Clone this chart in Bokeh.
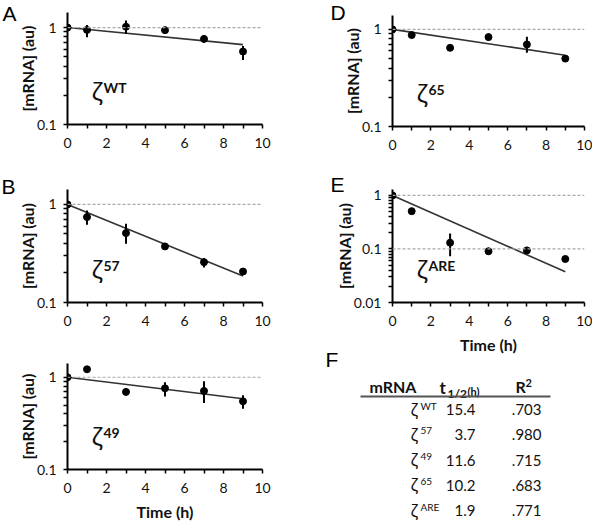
from bokeh.plotting import figure
from bokeh.layouts import row, column
from bokeh.models import (Range1d, FixedTicker, CustomJSTickFormatter, Label, LabelSet,
                          Span, Arrow, ColumnDataSource)
from bokeh.core.properties import value
from bokeh.embed import file_html
from bokeh.resources import INLINE

# ---------------- data ----------------
time_h = [0, 1, 3, 5, 7, 9]
fit_x = [0, 9]

wt_mean = [1.0, 0.946, 1.02, 0.94, 0.764, 0.566]
wt_lo = [1.0, 0.795, 0.86, 0.86, 0.70, 0.464]
wt_hi = [1.0, 1.065, 1.18, 1.02, 0.827, 0.647]
wt_fit = [1.0, 0.667]

z57_mean = [1.0, 0.743, 0.51, 0.373, 0.258, 0.207]
z57_lo = [1.0, 0.62, 0.397, 0.345, 0.228, 0.191]
z57_hi = [1.0, 0.868, 0.635, 0.403, 0.284, 0.221]
z57_fit = [1.0, 0.186]

z49_mean = [1.0, 1.22, 0.694, 0.759, 0.711, 0.549]
z49_lo = [1.0, 1.22, 0.694, 0.62, 0.527, 0.455]
z49_hi = [1.0, 1.22, 0.694, 0.885, 0.907, 0.64]
z49_fit = [1.0, 0.584]

z65_mean = [1.0, 0.874, 0.646, 0.833, 0.70, 0.50]
z65_lo = [1.0, 0.874, 0.646, 0.77, 0.574, 0.50]
z65_hi = [1.0, 0.874, 0.646, 0.902, 0.84, 0.50]
z65_fit = [1.0, 0.542]

are_mean = [1.0, 0.508, 0.131, 0.0906, 0.094, 0.065]
are_lo = [1.0, 0.508, 0.073, 0.0906, 0.082, 0.065]
are_hi = [1.0, 0.508, 0.194, 0.0906, 0.109, 0.065]
are_fit = [1.0, 0.0375]

x_ticks = [0, 2, 4, 6, 8, 10]
x_minor = [1, 3, 5, 7, 9]
y_ticks_1 = [0.1, 1]
y_minor_1 = [0.2, 0.3, 0.4, 0.5, 0.6, 0.7, 0.8, 0.9]
y_ticks_2 = [0.01, 0.1, 1]
y_minor_2 = [0.02, 0.03, 0.04, 0.05, 0.06, 0.07, 0.08, 0.09] + y_minor_1

table_head = ["mRNA", "t", "1/2", "(h)", "R", "2"]
table_sup = ["WT", "57", "49", "65", "ARE"]
table_half = ["15.4", "3.7", "11.6", "10.2", "1.9"]
table_r2 = [".703", ".980", ".715", ".683", ".771"]

FONT = "Lato"
GREEK = "Noto Sans"
LETTER = "Liberation Sans"
INK = "#111111"


def letter_label(txt, x, y):
    return Label(x=x, y=y, x_units="screen", y_units="screen", text=txt,
                 text_font=LETTER, text_font_size="21px", text_baseline="alphabetic",
                 text_color="black")


def panel(letter, sup, mean, lo, hi, fit, ymin, ymax, yt, ym, dashes,
          w, h, bl, br, bt, bb, xlabel, letter_xy):
    p = figure(width=w, height=h, x_range=Range1d(0, 10),
               y_range=Range1d(ymin, ymax), y_axis_type="log",
               output_backend="svg", toolbar_location=None,
               min_border_left=bl, min_border_right=br,
               min_border_top=bt, min_border_bottom=bb)
    p.outline_line_color = None
    p.grid.visible = False

    for lv in dashes:
        p.add_layout(Span(location=lv, dimension="width", line_color="#a8a8a8",
                          line_dash="3 2", line_width=1.2))

    p.line(fit_x, fit, line_color="#333333", line_width=1.6)
    p.segment(x0=time_h, y0=lo, x1=time_h, y1=hi, line_color="black", line_width=2)
    p.scatter(time_h, mean, marker="circle", size=7, color="black")

    xa = p.xaxis[0]
    xa.ticker = FixedTicker(ticks=x_ticks, minor_ticks=x_minor)
    ya = p.yaxis[0]
    ya.ticker = FixedTicker(ticks=yt, minor_ticks=ym)
    ya.formatter = CustomJSTickFormatter(code="return tick.toString();")
    for ax in (xa, ya):
        ax.axis_line_width = 2
        ax.axis_line_color = "black"
        ax.major_tick_line_color = "black"
        ax.minor_tick_line_color = "black"
        ax.major_tick_line_width = 1.5
        ax.minor_tick_line_width = 1.5
        ax.major_tick_in = 0
        ax.major_tick_out = 4
        ax.minor_tick_in = 0
        ax.minor_tick_out = 4
        ax.major_label_text_font = FONT
        ax.major_label_text_font_size = "14px"
        ax.major_label_text_color = INK
        ax.axis_label_text_font = FONT
        ax.axis_label_text_font_style = "bold"
        ax.axis_label_text_font_size = "16px"
        ax.axis_label_text_color = INK
    xa.major_label_standoff = 9
    ya.major_label_standoff = 7
    ya.axis_label = "[mRNA] (au)"
    ya.axis_label_standoff = -3
    if xlabel:
        xa.axis_label = "Time (h)"
        xa.axis_label_standoff = 6

    p.add_layout(Label(x=24, y=34, x_units="screen", y_units="screen", text="ζ",
                       text_font=GREEK, text_font_size="24px",
                       text_baseline="alphabetic", text_color=INK))
    p.add_layout(Label(x=36, y=37, x_units="screen", y_units="screen", text=sup,
                       text_font=FONT, text_font_style="bold", text_font_size="14px",
                       text_baseline="alphabetic", text_color=INK))
    if letter:
        p.add_layout(letter_label(letter, *letter_xy), "left")
    return p


# left column: width 300 (frame 67..262); right column: width 292 (frame 92..284)
pA = panel("A", "WT", wt_mean, wt_lo, wt_hi, wt_fit, 0.1, 1.43, y_ticks_1, y_minor_1, [1],
           300, 171, 67, 38, 12, 47, False, (2, 111))
pB = panel("B", "57", z57_mean, z57_lo, z57_hi, z57_fit, 0.1, 1.42, y_ticks_1, y_minor_1, [1],
           300, 185, 67, 38, 18, 54, False, (1, 116))
pC = panel(None, "49", z49_mean, z49_lo, z49_hi, z49_fit, 0.1, 1.41, y_ticks_1, y_minor_1, [1],
           300, 167, 67, 38, 7, 52, True, (0, 0))
pD = panel("D", "65", z65_mean, z65_lo, z65_hi, z65_fit, 0.1, 1.39, y_ticks_1, y_minor_1, [1],
           292, 171, 92, 8, 15, 45, False, (6, 114))
pE = panel("E", "ARE", are_mean, are_lo, are_hi, are_fit, 0.01, 1.29, y_ticks_2, y_minor_2, [1, 0.1],
           292, 201, 92, 8, 18, 70, True, (13, 118))
# letter F sits beside E's x-axis title, above the table
pE.add_layout(letter_label("F", 21, -57), "left")

# ---------------- table F ----------------
TW, TH = 292, 151
pF = figure(width=TW, height=TH, x_range=Range1d(0, TW), y_range=Range1d(TH, 0),
            output_backend="svg", toolbar_location=None,
            min_border=0, x_axis_location=None, y_axis_location=None)
pF.outline_line_color = None
pF.grid.visible = False


def tlabel(txt, x, y, size, bold=True, align="left", font=FONT):
    pF.add_layout(Label(x=x, y=y, text=txt, text_font=font,
                        text_font_style="bold" if bold else "normal",
                        text_font_size=size, text_align=align, text_baseline="middle",
                        text_color=INK))


tlabel(table_head[0], 92.5, 14, "16px", align="center")
tlabel(table_head[1], 139, 15, "17px")
tlabel(table_head[2], 147, 21, "12px")
tlabel(table_head[3], 167, 19, "11px")
tlabel(table_head[4], 215, 14, "16px")
tlabel(table_head[5], 225, 10, "11px")
pF.add_layout(Arrow(end=None, start=None, x_start=60, y_start=24, x_end=250, y_end=24,
                    line_color="#555555", line_width=2))

n = len(table_sup)
row_y = [37 + 25.3 * i for i in range(n)]
src = ColumnDataSource(dict(
    y=row_y, ysup=[v - 4 for v in row_y], zeta=["ζ"] * n,
    xz=[110] * n, xs=[120] * n, xh=[175] * n, xr=[241] * n,
    sup=table_sup, half=table_half, r2=table_r2))

common = dict(source=src, text_baseline="middle", text_color=INK)
pF.add_layout(LabelSet(x="xz", y="y", text="zeta", text_font=value(GREEK),
                       text_font_size="16px", **common))
pF.add_layout(LabelSet(x="xs", y="ysup", text="sup", text_font=value(FONT),
                       text_font_size="10px", **common))
pF.add_layout(LabelSet(x="xh", y="y", text="half", text_font=value(FONT),
                       text_font_size="15px", text_align="right", **common))
pF.add_layout(LabelSet(x="xr", y="y", text="r2", text_font=value(FONT),
                       text_font_size="15px", text_align="right", **common))

layout = row(column(pA, pB, pC), column(pD, pE, row(pF)))
open("out.html", "w").write(file_html(layout, INLINE))
